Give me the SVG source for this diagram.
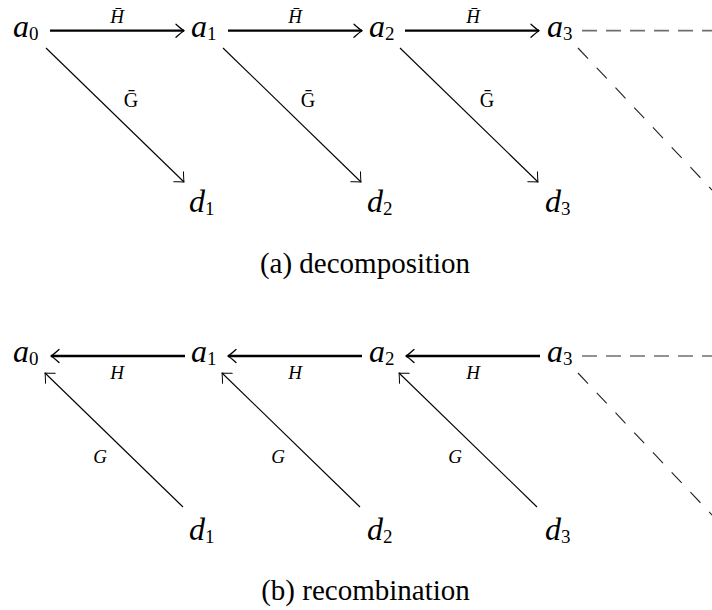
<svg xmlns="http://www.w3.org/2000/svg" width="712" height="610" viewBox="0 0 712 610">
<style>
.m{font-family:"Liberation Serif",serif;font-style:italic;font-size:32px;fill:#000}
.sub{font-style:normal;font-size:19px}
.lbl{font-family:"Liberation Serif",serif;font-style:italic;font-size:19px;fill:#000;text-anchor:middle}
.up{font-style:normal;font-size:20px}
.cap{font-family:"Liberation Serif",serif;font-size:29px;fill:#000;text-anchor:middle}
.thick{stroke:#000;stroke-width:2.3;fill:none}
.thin{stroke:#000;stroke-width:1.1;fill:none}
.dashh{stroke:#6f6f6f;stroke-width:1.7;stroke-dasharray:15 9;fill:none}
.dashd{stroke:#222;stroke-width:1.1;stroke-dasharray:14.6 12.7;fill:none}
</style>
<defs>
<marker id="ah" markerUnits="userSpaceOnUse" viewBox="-10 -8 12 16" refX="0" refY="0" markerWidth="12" markerHeight="16" orient="auto" overflow="visible">
<path d="M-8,-6.5 Q-2.5,-1.5 0,0 Q-2.5,1.5 -8,6.5" fill="none" stroke="#000" stroke-width="1.3" stroke-linecap="round"/>
</marker>
<marker id="ad" markerUnits="userSpaceOnUse" viewBox="-10 -10 12 20" refX="0" refY="0" markerWidth="12" markerHeight="20" orient="auto" overflow="visible">
<path d="M-7.5,-7 Q-2,-1.5 0,0 Q-2,1.5 -7.5,7" fill="none" stroke="#000" stroke-width="1" stroke-linecap="round"/>
</marker>
</defs>

<g id="connectors">
<line class="thick" x1="50" y1="30.7" x2="184" y2="30.7" marker-end="url(#ah)"/>
<line class="thick" x1="228" y1="30.7" x2="362" y2="30.7" marker-end="url(#ah)"/>
<line class="thick" x1="405" y1="30.7" x2="539" y2="30.7" marker-end="url(#ah)"/>
<line class="thin" x1="46" y1="48" x2="184" y2="182" marker-end="url(#ad)"/>
<line class="thin" x1="223" y1="48" x2="361" y2="182" marker-end="url(#ad)"/>
<line class="thin" x1="400" y1="48" x2="538" y2="182" marker-end="url(#ad)"/>
<line class="dashh" x1="582" y1="30.7" x2="712" y2="30.7"/>
<line class="dashd" x1="578" y1="48" x2="712" y2="190"/>
<line class="thick" x1="185" y1="356" x2="51" y2="356" marker-end="url(#ah)"/>
<line class="thick" x1="362" y1="356" x2="228" y2="356" marker-end="url(#ah)"/>
<line class="thick" x1="540" y1="356" x2="406" y2="356" marker-end="url(#ah)"/>
<line class="thin" x1="183" y1="507" x2="45" y2="373" marker-end="url(#ad)"/>
<line class="thin" x1="360" y1="507" x2="222" y2="373" marker-end="url(#ad)"/>
<line class="thin" x1="537" y1="507" x2="399" y2="373" marker-end="url(#ad)"/>
<line class="dashh" x1="582" y1="356" x2="712" y2="356"/>
<line class="dashd" x1="578" y1="373" x2="712" y2="515"/>
<text class="lbl" x="117" y="23">H&#x0304;</text>
<text class="lbl" x="295" y="23">H&#x0304;</text>
<text class="lbl" x="473" y="23">H&#x0304;</text>
<text class="lbl up" x="131" y="107">&#x1E20;</text>
<text class="lbl up" x="308" y="107">&#x1E20;</text>
<text class="lbl up" x="487" y="107">&#x1E20;</text>
<text class="lbl" x="117" y="379">H</text>
<text class="lbl" x="295" y="379">H</text>
<text class="lbl" x="473" y="379">H</text>
<text class="lbl" x="100" y="463">G</text>
<text class="lbl" x="278" y="463">G</text>
<text class="lbl" x="455" y="463">G</text>
</g>

<g id="dec-a0"><text class="m" x="13" y="37">a<tspan class="sub" dy="3">0</tspan></text></g>
<g id="dec-a1"><text class="m" x="191" y="37">a<tspan class="sub" dy="3">1</tspan></text></g>
<g id="dec-a2"><text class="m" x="369" y="37">a<tspan class="sub" dy="3">2</tspan></text></g>
<g id="dec-a3"><text class="m" x="547" y="37">a<tspan class="sub" dy="3">3</tspan></text></g>
<g id="dec-d1"><text class="m" x="189" y="212">d<tspan class="sub" dy="3">1</tspan></text></g>
<g id="dec-d2"><text class="m" x="367" y="212">d<tspan class="sub" dy="3">2</tspan></text></g>
<g id="dec-d3"><text class="m" x="545" y="212">d<tspan class="sub" dy="3">3</tspan></text></g>
<g id="cap-a"><text class="cap" x="365" y="273">(a) decomposition</text></g>

<g id="rec-a0"><text class="m" x="13" y="362">a<tspan class="sub" dy="3">0</tspan></text></g>
<g id="rec-a1"><text class="m" x="191" y="362">a<tspan class="sub" dy="3">1</tspan></text></g>
<g id="rec-a2"><text class="m" x="369" y="362">a<tspan class="sub" dy="3">2</tspan></text></g>
<g id="rec-a3"><text class="m" x="547" y="362">a<tspan class="sub" dy="3">3</tspan></text></g>
<g id="rec-d1"><text class="m" x="189" y="540">d<tspan class="sub" dy="3">1</tspan></text></g>
<g id="rec-d2"><text class="m" x="367" y="540">d<tspan class="sub" dy="3">2</tspan></text></g>
<g id="rec-d3"><text class="m" x="545" y="540">d<tspan class="sub" dy="3">3</tspan></text></g>
<g id="cap-b"><text class="cap" x="365.5" y="600">(b) recombination</text></g>
</svg>
